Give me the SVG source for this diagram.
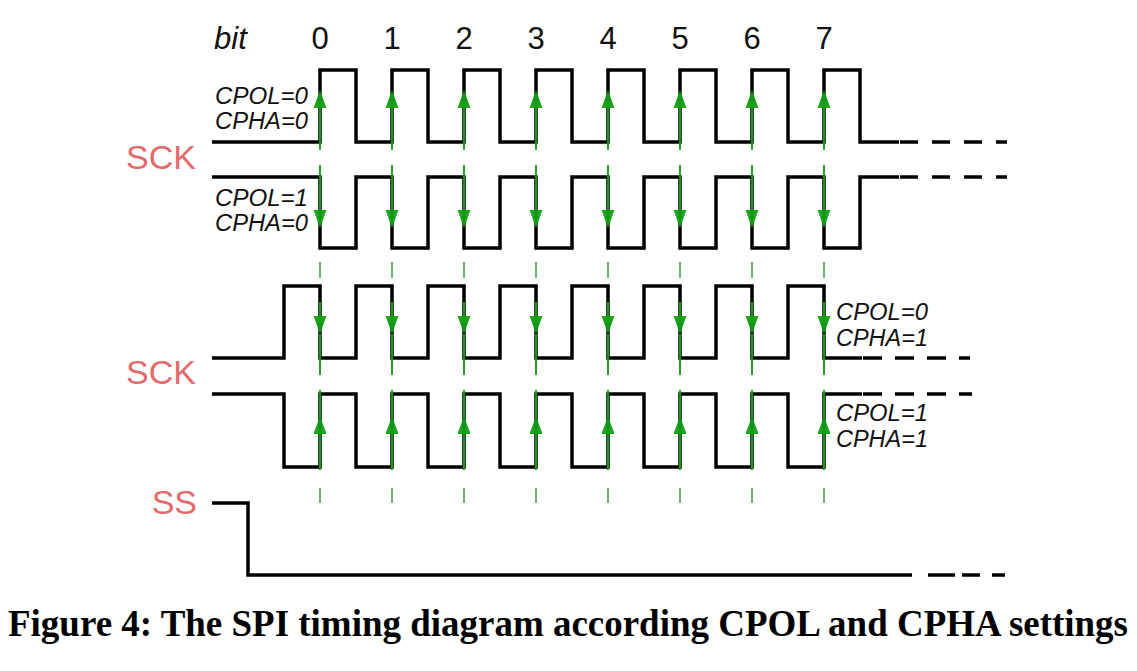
<svg xmlns="http://www.w3.org/2000/svg" xmlns:xlink="http://www.w3.org/1999/xlink" width="1137" height="671" viewBox="0 0 1137 671">
<style>
.w{fill:none;stroke:#000;stroke-width:3.5;stroke-linejoin:miter;stroke-linecap:butt}
.d{fill:none;stroke:#000;stroke-width:3.5}
.g{stroke:#1a9a1a;stroke-width:2;fill:none}
.gd{stroke:#3c9a3c;stroke-width:1.6;fill:none}
.ah{fill:#13a013}
.sig{font-family:"Liberation Sans",Arial,sans-serif;font-size:34px;fill:#e26a6a}
.cfg{font-family:"Liberation Sans",Arial,sans-serif;font-size:23px;font-style:italic;fill:#111}
.bit{font-family:"Liberation Sans",Arial,sans-serif;font-size:31px;fill:#111}
.cap{font-family:"Liberation Serif","Times New Roman",serif;font-size:37px;font-weight:bold;fill:#000}
</style>
<defs>
<g id="edge">
<line class="g" x1="0" y1="95" x2="0" y2="150"/>
<polygon class="ah" points="0,90 -6.5,108 6.5,108"/>
<line class="g" x1="0" y1="165" x2="0" y2="224"/>
<polygon class="ah" points="0,228 -6.5,210 6.5,210"/>
<line class="gd" x1="0" y1="262" x2="0" y2="278"/>
<line class="g" x1="0" y1="302" x2="0" y2="330"/>
<line class="g" x1="0" y1="334" x2="0" y2="375"/>
<polygon class="ah" points="0,334 -6.5,316 6.5,316"/>
<line class="g" x1="0" y1="390" x2="0" y2="470"/>
<polygon class="ah" points="0,416 -6.5,434 6.5,434"/>
<line class="gd" x1="0" y1="488" x2="0" y2="503"/>
</g>
</defs>
<rect width="1137" height="671" fill="#fff"/>

<g id="labels">
<text class="bit" x="214" y="49" font-style="italic">bit</text>
<g text-anchor="middle">
<text class="bit" x="320" y="49">0</text>
<text class="bit" x="392" y="49">1</text>
<text class="bit" x="464" y="49">2</text>
<text class="bit" x="536" y="49">3</text>
<text class="bit" x="608" y="49">4</text>
<text class="bit" x="680" y="49">5</text>
<text class="bit" x="752" y="49">6</text>
<text class="bit" x="824" y="49">7</text>
</g>
<text class="sig" x="196" y="169" text-anchor="end">SCK</text>
<text class="sig" x="196" y="384" text-anchor="end">SCK</text>
<text class="sig" x="197" y="514" text-anchor="end">SS</text>
<text class="cfg" x="215" y="104" textLength="93" lengthAdjust="spacingAndGlyphs">CPOL=0</text>
<text class="cfg" x="215" y="129" textLength="93" lengthAdjust="spacingAndGlyphs">CPHA=0</text>
<text class="cfg" x="215" y="206" textLength="93" lengthAdjust="spacingAndGlyphs">CPOL=1</text>
<text class="cfg" x="215" y="231" textLength="93" lengthAdjust="spacingAndGlyphs">CPHA=0</text>
<text class="cfg" x="836" y="320" textLength="92" lengthAdjust="spacingAndGlyphs">CPOL=0</text>
<text class="cfg" x="836" y="346" textLength="92" lengthAdjust="spacingAndGlyphs">CPHA=1</text>
<text class="cfg" x="836" y="421" textLength="92" lengthAdjust="spacingAndGlyphs">CPOL=1</text>
<text class="cfg" x="836" y="447" textLength="92" lengthAdjust="spacingAndGlyphs">CPHA=1</text>
</g>

<g id="sck-cpol0-cpha0">
<path class="w" d="M212,142 H320 V70 H356 V142 H392 V70 H428 V142 H464 V70 H500 V142 H536 V70 H572 V142 H608 V70 H644 V142 H680 V70 H716 V142 H752 V70 H788 V142 H824 V70 H860 V142 H899"/>
<line class="d" x1="900" y1="142" x2="1007" y2="142" stroke-dasharray="18 14"/>
</g>
<g id="sck-cpol1-cpha0">
<path class="w" d="M212,177 H320 V248 H356 V177 H392 V248 H428 V177 H464 V248 H500 V177 H536 V248 H572 V177 H608 V248 H644 V177 H680 V248 H716 V177 H752 V248 H788 V177 H824 V248 H860 V177 H899"/>
<line class="d" x1="900" y1="177" x2="1007" y2="177" stroke-dasharray="18 14"/>
</g>
<g id="sck-cpol0-cpha1">
<path class="w" d="M212,358 H284 V286 H320 V358 H356 V286 H392 V358 H428 V286 H464 V358 H500 V286 H536 V358 H572 V286 H608 V358 H644 V286 H680 V358 H716 V286 H752 V358 H788 V286 H824 V358 H862"/>
<line class="d" x1="863" y1="358" x2="970" y2="358" stroke-dasharray="19 13"/>
</g>
<g id="sck-cpol1-cpha1">
<path class="w" d="M212,394 H284 V467 H320 V394 H356 V467 H392 V394 H428 V467 H464 V394 H500 V467 H536 V394 H572 V467 H608 V394 H644 V467 H680 V394 H716 V467 H752 V394 H788 V467 H824 V394 H862"/>
<line class="d" x1="863" y1="394" x2="972" y2="394" stroke-dasharray="19 13"/>
</g>
<g id="ss">
<path class="w" d="M212,503 H248 V575 H912"/>
<path class="d" d="M928,575 H955 M962,575 H980 M992,575 H1005"/>
</g>

<g id="sample-edges" opacity="0.95">
<use xlink:href="#edge" x="320"/>
<use xlink:href="#edge" x="392"/>
<use xlink:href="#edge" x="464"/>
<use xlink:href="#edge" x="536"/>
<use xlink:href="#edge" x="608"/>
<use xlink:href="#edge" x="680"/>
<use xlink:href="#edge" x="752"/>
<use xlink:href="#edge" x="824"/>
</g>

<g id="caption">
<text class="cap" x="8" y="636" textLength="1120" lengthAdjust="spacingAndGlyphs">Figure 4: The SPI timing diagram according CPOL and CPHA settings</text>
</g>
</svg>
